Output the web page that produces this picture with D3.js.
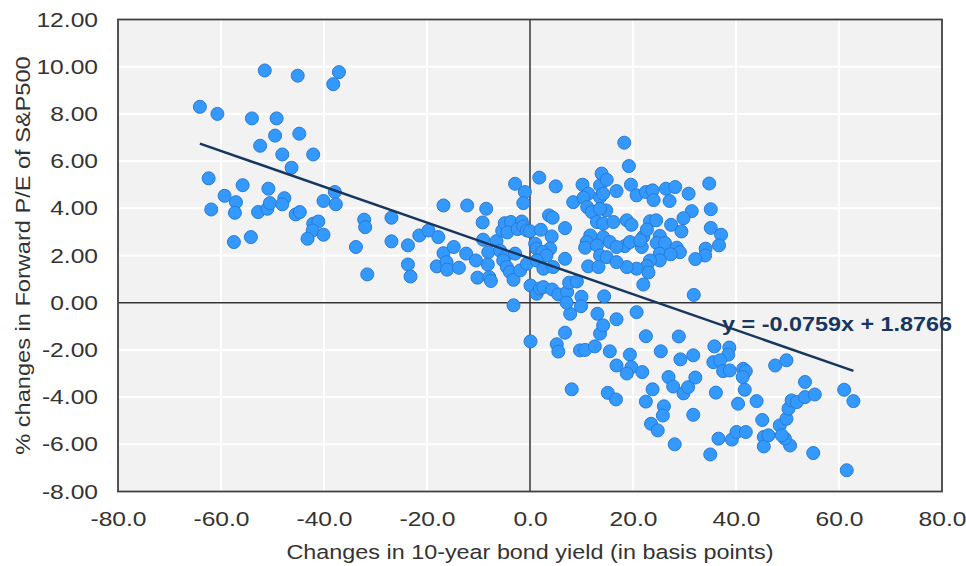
<!DOCTYPE html>
<html>
<head>
<meta charset="utf-8">
<style>
  body { margin: 0; background: #fff; }
  text { font-family: "Liberation Sans", Arial, sans-serif; fill: #333; }
  .grid line { stroke: #fff; stroke-width: 2px; }
  .dot { fill: #3399ff; stroke: #2a7bd0; stroke-width: 1px; }
</style>
</head>
<body>
<svg width="966" height="566"></svg>
<script src="https://d3js.org/d3.v7.min.js"></script>
<script>

// changes in 10y yield (bp), % change in forward P/E
var points = [
  [-64.1,8.3],[-60.7,8.0],[-51.5,9.84],[-45.1,9.62],[-37.1,9.77],[-38.2,9.26],[-54.0,7.81],[-49.2,7.81],
  [-49.5,7.08],[-44.8,7.16],[-52.4,6.65],[-48.1,6.28],[-42.1,6.28],[-46.3,5.72],[-62.4,5.27],[-55.8,4.98],
  [-50.8,4.83],[-59.3,4.53],[-57.1,4.26],[-61.9,3.95],[-57.3,3.81],[-52.8,3.84],[-51.0,3.98],[-50.5,4.22],
  [-47.7,4.43],[-48.1,4.17],[-45.5,3.74],[-44.7,3.84],[-40.1,4.31],[-37.9,4.69],[-37.7,4.17],[-42.1,3.35],
  [-41.1,3.44],[-42.2,3.06],[-43.2,2.71],[-40.1,2.88],[-57.5,2.57],[-54.2,2.78],[-32.2,3.52],[-32.0,3.2],
  [-33.8,2.36],[-31.6,1.2],
  [-26.9,3.6],[-26.9,2.6],[-23.7,2.43],[-23.7,1.62],[-23.2,1.11],[-21.5,2.85],[-19.7,3.06],[-17.8,2.78],
  [-16.8,4.12],[-12.2,4.12],[-8.5,3.98],[-9.2,3.4],[-16.8,2.1],[-14.8,2.36],[-18.1,1.54],[-16.2,1.72],
  [-16.1,1.4],[-13.8,1.48],[-12.4,2.08],[-10.5,1.79],[-9.1,2.67],[-8.1,2.14],[-8.2,1.62],[-10.2,1.06],
  [-7.9,1.08],[-7.6,0.92],[-6.5,2.61],[-5.4,3.05],[-4.9,3.37],[-3.7,3.42],[-4.4,2.98],[-2.9,5.04],
  [-1.0,4.69],[-1.3,4.22],[-1.6,3.44],[-2.4,3.12],[-1.3,3.23],[-0.6,3.06],[0.0,3.03],[-5.8,2.2],
  [-4.9,1.93],[-5.2,1.79],[-4.5,1.51],[-3.9,1.3],[-2.9,2.08],[-3.2,0.97],[-1.9,1.37],[-0.6,1.65],
  [-3.2,-0.11],[0.1,0.73],[0.1,-1.64],
  [1.8,5.3],[5.0,4.93],[3.7,3.7],[4.4,3.6],[6.8,3.16],[2.1,3.09],[1.0,2.5],[1.3,2.29],
  [4.2,2.81],[3.9,2.29],[2.4,2.15],[3.2,2.0],[6.8,1.86],[1.3,1.79],[2.6,1.44],[4.5,1.51],
  [1.3,0.38],[1.9,0.6],[2.6,0.66],[4.3,0.56],[5.5,0.35],[7.2,0.45],[7.6,0.85],[9.1,0.9],
  [10.0,0.25],[9.9,-0.15],[7.8,-0.47],[7.1,0.0],[8.4,4.26],[10.2,5.0],[11.3,4.62],[10.4,4.45],
  [11.1,4.05],[12.0,3.84],
  [13.6,4.97],[13.9,5.47],[14.9,5.21],[13.6,4.47],[14.2,4.62],[14.8,3.91],[13.6,3.98],[16.8,4.73],
  [18.3,6.78],[19.2,5.79],[19.6,5.0],[20.7,4.55],[22.5,4.69],[23.8,4.76],[24.0,4.35],[26.4,4.83],
  [28.2,4.9],[27.1,4.31],[30.8,4.62],[34.8,5.05],[31.4,3.88],[29.8,3.58],[35.1,3.96],[27.4,3.3],
  [29.4,3.02],[35.1,3.17],[37.1,2.88],[36.7,2.43],[34.1,2.29],[34.0,2.0],[32.1,1.85],[23.3,3.45],
  [24.5,3.49],[18.8,3.49],[19.7,3.3],[22.0,2.8],[22.7,3.1],[25.2,2.83],[24.6,2.53],[26.2,2.53],
  [25.2,2.08],[21.7,2.36],[18.4,2.4],[19.4,2.57],[21.4,2.64],[28.5,2.33],[29.1,2.14],[27.3,2.05],
  [25.2,1.79],[23.3,1.79],[22.7,1.55],[23.0,1.28],[20.7,1.44],[18.8,1.51],[22.0,0.77],[31.8,0.33],
  [13.0,3.42],[14.2,3.35],[16.2,3.42],[11.7,2.85],[11.0,2.57],[10.7,2.33],[14.2,2.78],[15.5,2.57],
  [16.8,2.36],[13.0,2.43],[13.6,2.0],[14.9,1.93],[11.3,1.54],[13.3,1.51],[16.8,1.72],[14.4,0.27],
  [20.7,-0.4],[13.1,-0.47],[16.8,-0.7],[6.8,-1.27],[5.2,-1.76],[5.5,-2.07],[9.7,-2.02],[10.7,-2.0],
  [12.6,-1.85],[13.6,-1.31],[14.2,-0.96],[15.5,-2.06],[16.8,-2.66],[19.4,-2.2],[19.7,-2.73],[18.8,-3.0],
  [21.8,-2.94],[22.5,-1.42],[25.4,-2.06],[26.9,-3.15],[27.8,-3.55],[23.8,-3.67],[22.5,-4.19],[26.0,-4.39],
  [25.8,-4.78],[23.5,-5.13],[24.8,-5.41],[28.1,-6.0],[8.1,-3.67],[15.1,-3.82],[16.7,-4.1],[28.9,-1.43],
  [29.2,-2.4],[31.7,-2.23],[29.8,-3.84],[30.7,-3.58],[32.1,-3.17],[31.7,-4.75],[35.8,-1.85],[38.7,-1.9],
  [38.5,-2.2],[35.6,-2.52],[36.9,-2.44],[37.5,-2.9],[38.8,-2.87],[41.4,-2.8],[41.9,-2.9],[41.3,-3.15],
  [41.7,-3.69],[36.1,-3.81],[40.4,-4.28],[44.0,-4.17],[35.0,-6.43],[36.6,-5.76],[39.2,-5.8],[40.1,-5.48],
  [41.9,-5.48],[45.1,-4.97],[45.4,-5.69],[45.4,-6.09],[46.3,-5.62],[47.6,-2.66],[49.8,-2.44],[48.5,-5.2],
  [50.5,-6.05],[49.5,-5.76],[48.9,-5.62],[49.8,-4.92],[50.2,-4.49],[50.8,-4.14],[51.8,-4.21],[53.4,-4.0],
  [55.3,-3.89],[53.4,-3.36],[55.0,-6.37],[61.0,-3.69],[62.8,-4.17],[61.5,-7.1]
];

var xTicks = [-80, -60, -40, -20, 0, 20, 40, 60, 80];
var yTicks = [-8, -6, -4, -2, 0, 2, 4, 6, 8, 10, 12];
var trendSlope = -0.0759,
    trendIntercept = 1.8766;

var svg = d3.select("svg"),
    margin = {top: 19.5, right: 24, bottom: 74.5, left: 118},
    width = +svg.attr("width") - margin.left - margin.right,
    height = +svg.attr("height") - margin.top - margin.bottom;

var loc = d3.formatLocale({decimal: ".", thousands: ",", grouping: [3], currency: ["$", ""], minus: "-"});

// the source chart's text is a bit wide, stretch it
function widen(sel, k) {
  sel.each(function() {
    var w = this.getComputedTextLength();
    d3.select(this).attr("textLength", w * k).attr("lengthAdjust", "spacingAndGlyphs");
  });
}

var x = d3.scaleLinear().domain([-80, 80]).range([0, width]);
var y = d3.scaleLinear().domain([-8, 12]).range([height, 0]);

var g = svg.append("g").attr("transform", "translate(" + margin.left + "," + margin.top + ")");

g.append("rect")
    .attr("width", width)
    .attr("height", height)
    .attr("fill", "#f2f2f2");

var grid = g.append("g").attr("class", "grid");
grid.selectAll(".gx").data(xTicks).enter().append("line")
    .attr("x1", function(d) { return x(d); })
    .attr("x2", function(d) { return x(d); })
    .attr("y1", 0).attr("y2", height);
grid.selectAll(".gy").data(yTicks).enter().append("line")
    .attr("y1", function(d) { return y(d); })
    .attr("y2", function(d) { return y(d); })
    .attr("x1", 0).attr("x2", width);

// zero axes
g.append("line")
    .attr("x1", x(0)).attr("x2", x(0))
    .attr("y1", 0).attr("y2", height)
    .attr("stroke", "#333").attr("stroke-width", 1.5);
g.append("line")
    .attr("x1", 0).attr("x2", width)
    .attr("y1", y(0)).attr("y2", y(0))
    .attr("stroke", "#333").attr("stroke-width", 1.5);

g.append("rect")
    .attr("width", width)
    .attr("height", height)
    .attr("fill", "none")
    .attr("stroke", "#404040")
    .attr("stroke-width", 1.8);

// axes (labels only)
var xAxis = g.append("g")
    .attr("transform", "translate(0," + height + ")")
    .call(d3.axisBottom(x).tickValues(xTicks).tickFormat(loc.format(".1f")).tickSize(0).tickPadding(20));
var yAxis = g.append("g")
    .call(d3.axisLeft(y).tickValues(yTicks).tickFormat(loc.format(".2f")).tickSize(0).tickPadding(20));
[xAxis, yAxis].forEach(function(a) {
  a.select(".domain").remove();
  a.selectAll("text")
      .attr("font-size", 20.5)
      .attr("font-family", "Liberation Sans, Arial, sans-serif")
      .attr("fill", "#333")
      .call(widen, 1.2);
});

g.selectAll(".dot")
    .data(points)
    .enter().append("circle")
    .attr("class", "dot")
    .attr("cx", function(d) { return x(d[0]); })
    .attr("cy", function(d) { return y(d[1]); })
    .attr("r", 6.5);

var xr = d3.extent(points, function(d) { return d[0]; });
g.append("line")
    .attr("x1", x(xr[0])).attr("y1", y(trendSlope * xr[0] + trendIntercept))
    .attr("x2", x(xr[1])).attr("y2", y(trendSlope * xr[1] + trendIntercept))
    .attr("stroke", "#17375e")
    .attr("stroke-width", 2.5);

g.append("text")
    .attr("x", x(37.3))
    .attr("y", y(-1.19))
    .attr("font-size", 20.5)
    .attr("font-weight", "bold")
    .style("fill", "#17375e")
    .text("y = " + trendSlope + "x + " + trendIntercept)
    .call(widen, 1.14);

svg.append("text")
    .attr("x", margin.left + width / 2)
    .attr("y", 559)
    .attr("text-anchor", "middle")
    .attr("font-size", 20.5)
    .text("Changes in 10-year bond yield (in basis points)")
    .call(widen, 1.14);

svg.append("text")
    .attr("transform", "translate(30," + (margin.top + height / 2) + ") rotate(-90)")
    .attr("text-anchor", "middle")
    .attr("font-size", 20.5)
    .text("% changes in Forward P/E of S&P500")
    .call(widen, 1.15);

</script>
</body>
</html>
